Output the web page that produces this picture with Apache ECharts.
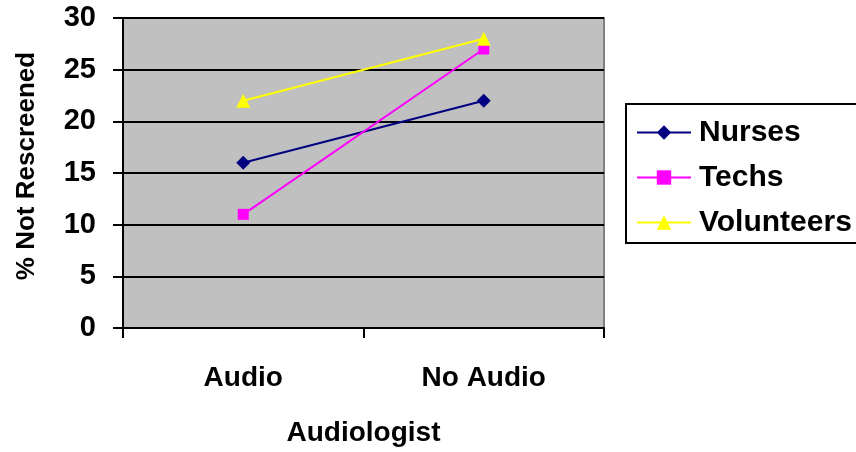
<!DOCTYPE html>
<html>
<head>
<meta charset="utf-8">
<script src="https://cdn.jsdelivr.net/npm/echarts@6/dist/echarts.min.js"></script>
<style>
  html, body { margin: 0; padding: 0; background: #ffffff; }
  #chart { width: 856px; height: 452px; }
</style>
</head>
<body>
<div id="chart"></div>
<script>
// Screening groups compared with and without an audiologist present
const categories = ['Audio', 'No Audio'];
const nurses = [16, 22];
const techs = [11, 27];
const volunteers = [22, 28];
const yTicks = { min: 0, max: 30, interval: 5 };

const FONT = '"Liberation Sans", Arial, sans-serif';

const chart = echarts.init(document.getElementById('chart'), null, { renderer: 'canvas' });

function lineSeries(name, data, color, symbol, size) {
  return {
    name: name,
    type: 'line',
    data: data,
    symbol: symbol,
    symbolSize: size,
    showSymbol: true,
    lineStyle: { color: color, width: 2 },
    itemStyle: { color: color },
    emphasis: { disabled: true },
    animation: false
  };
}

chart.setOption({
  animation: false,
  textStyle: { fontFamily: FONT },
  grid: {
    left: 123, top: 18, right: 252, bottom: 122,
    show: true,
    backgroundColor: '#c0c0c0',
    borderColor: '#808080',
    borderWidth: 2
  },
  legend: {
    orient: 'vertical',
    left: 626, top: 104,
    padding: [13, 10, 5, 10],
    itemWidth: 54, itemHeight: 18, itemGap: 14,
    borderColor: '#000000', borderWidth: 2,
    backgroundColor: '#ffffff',
    textStyle: { fontFamily: FONT, fontSize: 30, fontWeight: 'bold', color: '#000000', lineHeight: 31, padding: [0, 0, 0, 3] },
    data: ['Nurses', 'Techs', 'Volunteers']
  },
  xAxis: {
    type: 'category',
    data: categories,
    boundaryGap: true,
    name: 'Audiologist',
    nameLocation: 'middle',
    nameGap: 91,
    nameTextStyle: { fontFamily: FONT, fontSize: 28, fontWeight: 'bold', color: '#000000' },
    axisLine: { show: true, lineStyle: { color: '#000000', width: 2 } },
    axisTick: { show: true, length: 10, alignWithLabel: false, lineStyle: { color: '#000000', width: 2 } },
    axisLabel: { margin: 36, fontFamily: FONT, fontSize: 28, fontWeight: 'bold', color: '#000000' },
    splitLine: { show: false }
  },
  yAxis: {
    type: 'value',
    min: yTicks.min, max: yTicks.max, interval: yTicks.interval,
    name: '% Not Rescreened',
    nameLocation: 'middle',
    nameGap: 83,
    nameRotate: 90,
    nameTextStyle: { fontFamily: FONT, fontSize: 26, fontWeight: 'bold', color: '#000000', padding: [0, 0, 0, 14] },
    axisLine: { show: true, lineStyle: { color: '#000000', width: 2 } },
    axisTick: { show: true, length: 10, lineStyle: { color: '#000000', width: 2 } },
    axisLabel: { margin: 27, fontFamily: FONT, fontSize: 29, fontWeight: 'bold', color: '#000000' },
    splitLine: { show: true, lineStyle: { color: '#000000', width: 2 } }
  },
  series: [
    lineSeries('Nurses', nurses, '#000080', 'diamond', 14),
    lineSeries('Techs', techs, '#ff00ff', 'rect', 11),
    lineSeries('Volunteers', volunteers, '#ffff00', 'triangle', 14)
  ]
});
</script>
</body>
</html>
